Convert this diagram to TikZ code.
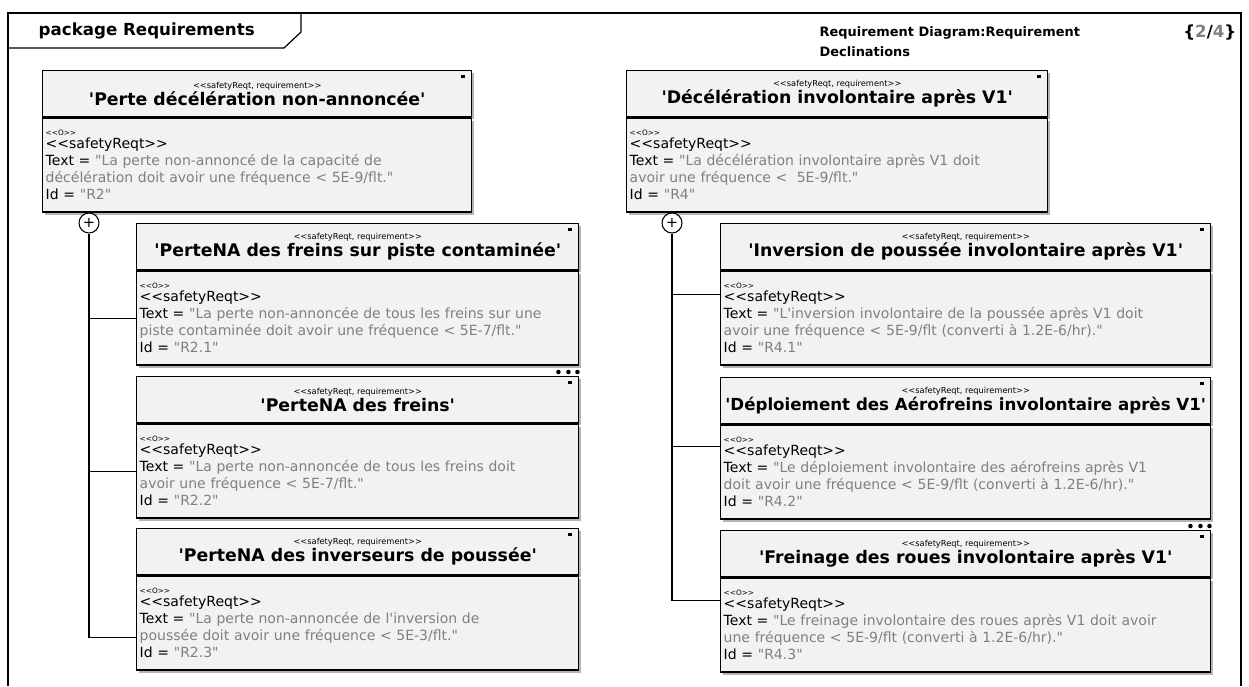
\documentclass[tikz,border=0pt]{standalone}
\usepackage{fontspec}
\newfontfamily\reqfont{DejaVu Sans}
\usepackage{xcolor}
\usepackage{tikz}
\usetikzlibrary{positioning,shadows}
\definecolor{reqfill}{RGB}{242, 242, 242}
\definecolor{reqval}{RGB}{128, 128, 128}
\definecolor{reqshadow}{RGB}{180, 180, 180}
\newcommand{\val}[1]{\textcolor{reqval}{#1}}
% header: stereotype + title (optional title size)
\newcommand{\reqhd}[2][13]{{\fontsize{6.2}{7.5}\selectfont <<safetyReqt, requirement>>}\\[1pt]{\bfseries\fontsize{#1}{14.5}\selectfont #2}}
% body: text (two lines) + id
\newcommand{\reqbd}[3]{{\fontsize{5.5}{6}\selectfont <<O>>}\\[-3pt]<<safetyReqt>>\\Text = \val{"#1}\\\val{#2"}\\Id = \val{"#3"}}

\begin{document}
\begin{tikzpicture}[x=0.75pt, y=-0.75pt, font=\reqfont,
    reqhead/.style={draw, line width=1.1pt, fill=reqfill, anchor=north west,
      minimum width=#1*0.75pt, minimum height=46*0.75pt, inner sep=0pt, align=center,
      drop shadow={shadow xshift=2pt, shadow yshift=-2pt, fill=reqshadow, opacity=1}},
    reqbody/.style={draw, line width=1.1pt, fill=reqfill, text width=#1*0.75pt-4.5pt,
      inner xsep=2.25pt, inner ysep=0pt, minimum height=94*0.75pt, align=left,
      font=\reqfont\fontsize{10.5}{12.75}\selectfont,
      drop shadow={shadow xshift=2pt, shadow yshift=-2pt, fill=reqshadow, opacity=1}},
    plus/.style={circle, draw, line width=0.8pt, fill=white, inner sep=0pt,
      minimum size=20*0.75pt, font=\reqfont\fontsize{11}{11}\selectfont},
    conn/.style={line width=0.9pt}]
  \useasboundingbox (0,0) rectangle (1249,686);

  % frame and package tab
  \draw[line width=0.9pt] (8,686) |- (1241,13) -- (1241,686);
  \draw[line width=0.9pt] (8,48) -- (284,48) -- (301,32) -- (301,13);
  \node[anchor=west, font=\reqfont\bfseries\fontsize{12.5}{14}\selectfont] (pkg) at (34,31) {package Requirements};
  \node[anchor=west, align=left, font=\reqfont\bfseries\fontsize{9.7}{15}\selectfont] (diag) at (815,42)
    {Requirement Diagram:Requirement\\Declinations};
  \node[anchor=east, font=\reqfont\bfseries\fontsize{12.5}{14}\selectfont] (page) at (1241,33)
    {\{\val{2}/\val{4}\}};

  % left: R2 and its children
  \node[reqhead=429] (r2h) at (42,70) {\reqhd{'Perte décélération non-annoncée'}};
  \node[reqbody=429, below=0pt of r2h] (r2b)
    {\reqbd{La perte non-annoncé de la capacité de}{décélération doit avoir une fréquence < 5E-9/flt.}{R2}};

  \node[reqhead=442] (r21h) at (136,223) {\reqhd{'PerteNA des freins sur piste contaminée'}};
  \node[reqbody=442, below=0pt of r21h] (r21b)
    {\reqbd{La perte non-annoncée de tous les freins sur une}{piste contaminée doit avoir une fréquence < 5E-7/flt.}{R2.1}};

  \node[reqhead=442] (r22h) at (136,376) {\reqhd{'PerteNA des freins'}};
  \node[reqbody=442, below=0pt of r22h] (r22b)
    {\reqbd{La perte non-annoncée de tous les freins doit}{avoir une fréquence < 5E-7/flt.}{R2.2}};

  \node[reqhead=442] (r23h) at (136,528) {\reqhd{'PerteNA des inverseurs de poussée'}};
  \node[reqbody=442, below=0pt of r23h] (r23b)
    {\reqbd{La perte non-annoncée de l'inversion de}{poussée doit avoir une fréquence < 5E-3/flt.}{R2.3}};

  % right: R4 and its children
  \node[reqhead=421] (r4h) at (626,70) {\reqhd{'Décélération involontaire après V1'}};
  \node[reqbody=421, below=0pt of r4h] (r4b)
    {\reqbd{La décélération involontaire après V1 doit}{avoir une fréquence <~ 5E-9/flt.}{R4}};

  \node[reqhead=490] (r41h) at (720,223) {\reqhd{'Inversion de poussée involontaire après V1'}};
  \node[reqbody=490, below=0pt of r41h] (r41b)
    {\reqbd{L'inversion involontaire de la poussée après V1 doit}{avoir une fréquence < 5E-9/flt (converti à 1.2E-6/hr).}{R4.1}};

  \node[reqhead=490] (r42h) at (720,377) {\reqhd[12.5]{'Déploiement des Aérofreins involontaire après V1'}};
  \node[reqbody=490, below=0pt of r42h] (r42b)
    {\reqbd{Le déploiement involontaire des aérofreins après V1}{doit avoir une fréquence < 5E-9/flt (converti à 1.2E-6/hr).}{R4.2}};

  \node[reqhead=490] (r43h) at (720,530) {\reqhd{'Freinage des roues involontaire après V1'}};
  \node[reqbody=490, below=0pt of r43h] (r43b)
    {\reqbd{Le freinage involontaire des roues après V1 doit avoir}{une fréquence < 5E-9/flt (converti à 1.2E-6/hr).}{R4.3}};

  % containment connectors
  \node[plus] (r2c) at (89,223) {+};
  \node[plus] (r4c) at (672,223) {+};
  \draw[conn] (r21b.west) -| (r2c);
  \draw[conn] (r22b.west) -| (r2c);
  \draw[conn] ([yshift=-14.5*0.75pt]r23b.west) -| (r2c);
  \draw[conn] ([yshift=-24*0.75pt]r41b.north west) -| (r4c);
  \draw[conn] ([yshift=-22*0.75pt]r42b.north west) -| (r4c);
  \draw[conn] ([yshift=-23*0.75pt]r43b.north west) -| (r4c);

  % corner marks
  \foreach \n in {r2h, r21h, r22h, r23h, r4h, r41h, r42h, r43h}
    \fill ([shift={(-11,5)}]\n.north east) rectangle +(4,3);
  \foreach \n in {r22h, r43h}
    \foreach \dx in {-21,-11,-2}
      \fill ([shift={(\dx,-4)}]\n.north east) circle (1.7pt);
\end{tikzpicture}
\end{document}
